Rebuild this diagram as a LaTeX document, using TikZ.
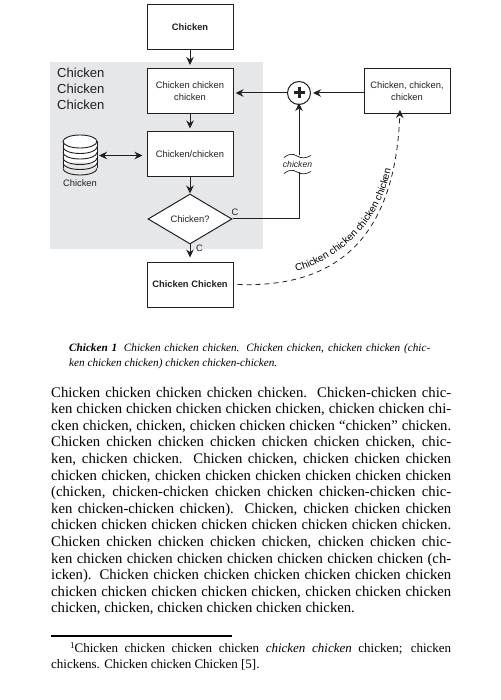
\documentclass[tikz,border=0pt]{standalone}
\usepackage{fontspec}
\setmainfont{Liberation Serif}
\newfontfamily\diagfont{Liberation Sans}
\usetikzlibrary{arrows.meta,shapes.geometric,decorations.text}
\definecolor{panelgray}{HTML}{E6E7E8}
\definecolor{ink}{HTML}{231F20}
\newcommand{\dgsize}{\diagfont\fontsize{9.35}{12}\selectfont}
\newcommand{\curvesize}{\diagfont\fontsize{10}{12}\selectfont}
\newcommand{\bodyline}[3]{\node[textline,font=\fontsize{14.7}{16}\selectfont] (#1) at (51,#2) {\makebox[400pt][s]{#3}};}
\newcommand{\lastline}[3]{\node[textline,font=\fontsize{14.7}{16}\selectfont] (#1) at (51,#2) {#3};}
\tikzset{
  x=1pt,y=-1pt,
  textline/.style={anchor=base west,inner sep=0pt,text=black},
  flowbox/.style={draw=ink,line width=1pt,fill=white,minimum width=86pt,minimum height=45pt,inner sep=0pt,align=center,font=\dgsize,text=ink},
  strongbox/.style={flowbox,font=\dgsize\bfseries},
  flow/.style={draw=ink,line width=1pt,-{Stealth[length=8pt,width=7.5pt]}},
  flowplain/.style={draw=ink,line width=1pt},
  lbl/.style={inner sep=0pt,font=\dgsize,text=ink},
}
\begin{document}
\begin{tikzpicture}
\useasboundingbox (0,0) rectangle (500,700);
\fill[white] (0,0) rectangle (500,700);
\fill[panelgray] (50,62) rectangle (263,249);
\node[anchor=north west,inner sep=0pt,align=left,text=ink,font=\diagfont\fontsize{13.1}{16}\selectfont] (paneltitle) at (57,68) {Chicken\\Chicken\\Chicken};
\node[strongbox] (start) at (190,27.5) {\raisebox{-1pt}{Chicken}};
\node[flowbox] (prep) at (190,91) {Chicken chicken\\chicken};
\node[flowbox] (gen) at (190,154.5) {Chicken/chicken};
\node[diamond,draw=ink,line width=1pt,fill=white,minimum width=84pt,minimum height=50pt,aspect=1.68,inner sep=0pt,font=\dgsize,text=ink] (dec) at (190,219) {Chicken?};
\node[strongbox] (final) at (190,284.5) {\raisebox{-1pt}{Chicken Chicken}};
\node[flowbox] (side) at (407,91) {Chicken, chicken,\\chicken};
\node[circle,draw=ink,line width=1pt,fill=white,minimum size=23pt,inner sep=0pt] (sum) at (299,93) {};
\draw[ink,line width=3pt] (293.5,93) -- (304.5,93) (299,87.5) -- (299,98.5);
% database
\node[inner sep=0pt,minimum width=34pt,minimum height=40pt] (db) at (80,155) {};
\fill[white] (63,141.5) -- (63,168.5) arc[start angle=180,end angle=360,x radius=17,y radius=6.5] -- (97,141.5) -- cycle;
\draw[ink,line width=0.9pt] (63,141.5) -- (63,168.5) (97,141.5) -- (97,168.5);
\foreach \yy in {147,152.5,158,163,168.5}
  \draw[ink,line width=0.9pt] (63,\yy) arc[start angle=180,end angle=360,x radius=17,y radius=-6.5];
\draw[ink,line width=0.9pt,fill=white] (80,141.5) ellipse[x radius=17,y radius=6.5];
\node[lbl] (dblabel) at (80,183) {Chicken};
% connectors
\draw[flow] (start.south) -- ([yshift=3pt]prep.north);
\draw[flow] (prep.south) -- ([yshift=3pt]gen.north);
\draw[flow] (gen.south) -- (dec.north);
\draw[flow] (dec.south) -- ([yshift=4pt]final.north);
\coordinate (prepin) at ([xshift=2pt]prep.east |- sum.west);
\draw[flow] (sum.west) -- (prepin);
\draw[flow] (side.west |- sum) -- ([xshift=2pt]sum.east);
\draw[draw=ink,line width=1pt,{Stealth[length=8pt,width=7.5pt]}-{Stealth[length=8pt,width=7.5pt]}] (99,155.5) -- ([xshift=-4pt]gen.west |- 0,155.5);
% feedback with break
\coordinate (breaktop) at (299,155.5);
\coordinate (breakbot) at (299,172);
\draw[flowplain] (dec.east) -- (breakbot |- dec.east) -- (breakbot);
\draw[flow] (breaktop) -- ([yshift=2pt]sum.south);
\draw[ink,line width=0.7pt] (284,157.5) .. controls (289,153.5) and (293,153.5) .. (297,156) .. controls (301,158.5) and (306,158.5) .. (311,155.5);
\draw[ink,line width=0.7pt] (284,173.5) .. controls (289,169.5) and (293,169.5) .. (297,172) .. controls (301,174.5) and (306,174.5) .. (311,171.5);
\node[lbl,font=\dgsize\itshape\fontsize{8.6}{10}\selectfont] (breaklabel) at (297.5,164) {chicken};
\node[lbl] (cright) at (235,212.5) {C};
\node[lbl] (cdown) at (199.5,248) {C};
% dashed curve
\draw[draw=ink,line width=0.8pt,dash pattern=on 5pt off 4pt,-{Stealth[length=8pt,width=7.5pt]}] ([xshift=4pt]final.east) .. controls (335,288) and (395,240) .. ([yshift=4pt,xshift=-7pt]side.south);
\path[decorate,decoration={text along path,text={|\curvesize|Chicken chicken chicken chicken},text align={center}}] (295,271.5) .. controls (345,258) and (382,218) .. (391,168);
% caption
\node[textline,font=\fontsize{11.2}{13}\selectfont] (cap1) at (69,351) {\makebox[361pt][s]{\textbf{\textit{Chicken 1}}\hspace{0.6em}\textit{Chicken chicken chicken. Chicken chicken, chicken chicken (chic-}}};
\node[textline,font=\fontsize{11.2}{13}\selectfont] (cap2) at (69,366) {\textit{ken chicken chicken) chicken chicken-chicken.}};
% body
\bodyline{b1}{397}{Chicken chicken chicken chicken chicken.\ \ Chicken-chicken chic-}
\bodyline{b2}{413.5}{ken chicken chicken chicken chicken chicken, chicken chicken chi-}
\bodyline{b3}{430}{cken chicken, chicken, chicken chicken chicken “chicken” chicken.}
\bodyline{b4}{446.5}{Chicken chicken chicken chicken chicken chicken chicken, chic-}
\bodyline{b5}{463}{ken, chicken chicken.\ \ Chicken chicken, chicken chicken chicken}
\bodyline{b6}{480}{chicken chicken, chicken chicken chicken chicken chicken chicken}
\bodyline{b7}{496.5}{(chicken, chicken-chicken chicken chicken chicken-chicken chic-}
\bodyline{b8}{513}{ken chicken-chicken chicken).\ \ Chicken, chicken chicken chicken}
\bodyline{b9}{529.5}{chicken chicken chicken chicken chicken chicken chicken chicken.}
\bodyline{b10}{546.5}{Chicken chicken chicken chicken chicken, chicken chicken chic-}
\bodyline{b11}{563}{ken chicken chicken chicken chicken chicken chicken chicken (ch-}
\bodyline{b12}{579.5}{icken). Chicken chicken chicken chicken chicken chicken chicken}
\bodyline{b13}{596}{chicken chicken chicken chicken chicken, chicken chicken chicken}
\lastline{b14}{612.5}{chicken, chicken, chicken chicken chicken chicken.}
% footnote
\draw[black,line width=1.4pt] (51,636) -- (232,636);
\node[textline,font=\fontsize{13}{14}\selectfont] (fn1) at (70,652) {\makebox[381pt][s]{\raisebox{4pt}{\fontsize{9}{9}\selectfont 1}Chicken chicken chicken chicken \textit{chicken chicken} chicken; chicken}};
\node[textline,font=\fontsize{13}{14}\selectfont] (fn2) at (51,668) {chickens. Chicken chicken Chicken [5].};
\end{tikzpicture}
\end{document}
